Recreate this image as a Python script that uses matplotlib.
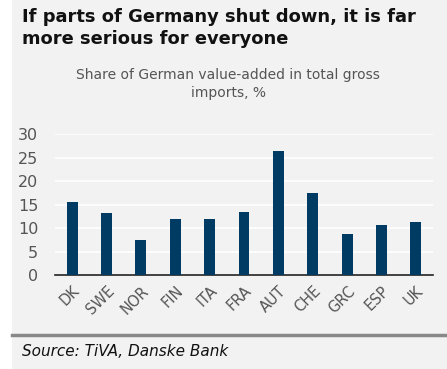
import matplotlib.pyplot as plt
from matplotlib.patches import Rectangle
from matplotlib.lines import Line2D

countries = ["DK", "SWE", "NOR", "FIN", "ITA", "FRA", "AUT", "CHE", "GRC", "ESP", "UK"]
shares = [15.5, 13.2, 7.5, 11.9, 11.9, 13.5, 26.5, 17.4, 8.8, 10.7, 11.2]
yticks = [0, 5, 10, 15, 20, 25, 30]

W, H = 447, 369
bg = "#f2f2f2"
bar_col = "#003b63"
grey_txt = "#555555"

fig = plt.figure(figsize=(W / 100, H / 100), dpi=100)
fig.patch.set_facecolor("white")

# grey panel behind everything
fig.patches.append(Rectangle((12 / W, 0), 1 - 12 / W, 1, transform=fig.transFigure,
                             facecolor=bg, edgecolor="none", zorder=-5))

fig.text(22 / W, 1 - 8 / H, "If parts of Germany shut down, it is far\nmore serious for everyone",
         ha="left", va="top", fontsize=12.9, fontweight="bold", color="#111111",
         linespacing=1.25)

fig.text(228 / W, 1 - 84 / H, "Share of German value-added in total gross\nimports, %",
         ha="center", va="center", fontsize=10, color=grey_txt, linespacing=1.3)

ax = fig.add_axes([55 / W, 1 - 275 / H, (433 - 55) / W, (275 - 134.3) / H], zorder=2)
ax.set_facecolor(bg)
x = range(len(countries))
ax.bar(x, shares, width=0.32, color=bar_col, zorder=3)
ax.set_xlim(-0.5, len(countries) - 0.5)
ax.set_ylim(0, 30)
ax.set_yticks(yticks)
ax.set_yticklabels([str(t) for t in yticks], fontsize=11.5, color=grey_txt)
ax.set_xticks(list(x))
ax.set_xticklabels(countries, rotation=45, ha="right", rotation_mode="anchor",
                   fontsize=10.5, color=grey_txt)
ax.grid(axis="y", color="white", linewidth=1.2, zorder=0)
ax.set_axisbelow(True)
for s in ["top", "right", "left"]:
    ax.spines[s].set_visible(False)
ax.spines["bottom"].set_color("#222222")
ax.spines["bottom"].set_linewidth(1.2)
ax.tick_params(axis="both", length=0)
ax.tick_params(axis="y", pad=12)
ax.tick_params(axis="x", pad=6)

# separator and source
fig.lines.append(Line2D([12 / W, 1], [1 - 335 / H, 1 - 335 / H], transform=fig.transFigure,
                        color="#888888", linewidth=2.5))
fig.text(22 / W, 1 - 351 / H, "Source: TiVA, Danske Bank", ha="left", va="center",
         fontsize=11, style="italic", color="#111111")

fig.savefig("out.png", dpi=100, facecolor=fig.get_facecolor())
